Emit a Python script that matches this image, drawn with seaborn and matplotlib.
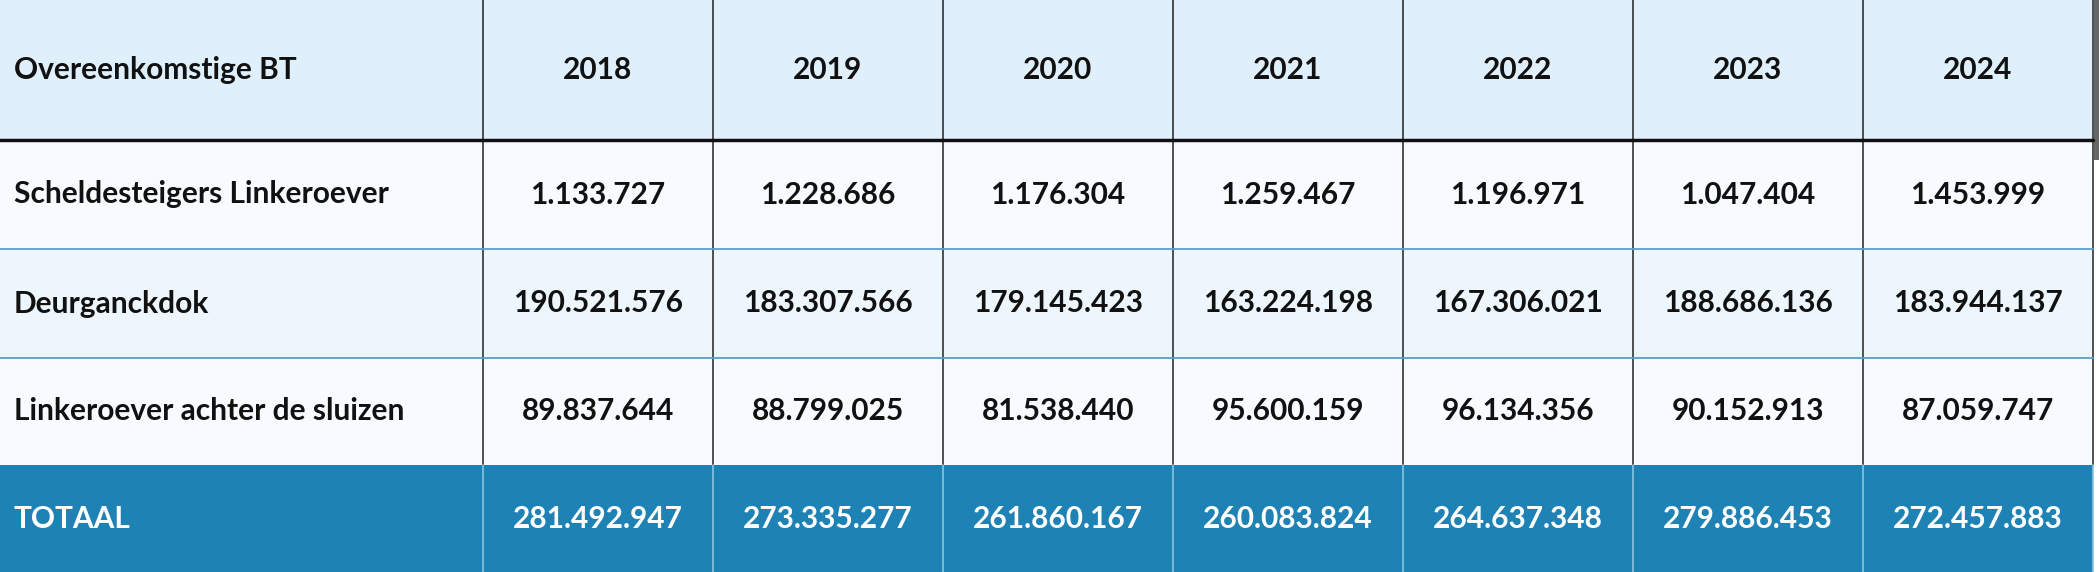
import matplotlib
matplotlib.use("Agg")
import matplotlib.pyplot as plt
import seaborn as sns
from matplotlib.patches import Rectangle

sns.set_theme(style="white")
plt.rcParams['font.family'] = ['Lato', 'DejaVu Sans']

# table data
header_label = "Overeenkomstige BT"
years = ["2018", "2019", "2020", "2021", "2022", "2023", "2024"]
row_labels = ["Scheldesteigers Linkeroever", "Deurganckdok", "Linkeroever achter de sluizen"]
scheldesteigers = ["1.133.727", "1.228.686", "1.176.304", "1.259.467", "1.196.971", "1.047.404", "1.453.999"]
deurganckdok = ["190.521.576", "183.307.566", "179.145.423", "163.224.198", "167.306.021", "188.686.136", "183.944.137"]
achter_sluizen = ["89.837.644", "88.799.025", "81.538.440", "95.600.159", "96.134.356", "90.152.913", "87.059.747"]
totaal = ["281.492.947", "273.335.277", "261.860.167", "260.083.824", "264.637.348", "279.886.453", "272.457.883"]

body = [scheldesteigers, deurganckdok, achter_sluizen]

W, H = 2099, 572
col_edges = [0, 483] + [483 + 230 * (i + 1) for i in range(7)]
row_edges = [0, 140, 249, 358, 465, 572]

header_bg = "#dff0fc"
row_bgs = ["#f7fbff", "#eef6fd", "#f7fbff"]
total_bg = "#1f82b4"

fig = plt.figure(figsize=(W / 100, H / 100), dpi=100)
ax = fig.add_axes([0, 0, 1, 1])
ax.set_xlim(0, W)
ax.set_ylim(H, 0)
ax.axis("off")

fs = 21.5

def cell(r, c, color):
    x0, x1 = col_edges[c], col_edges[c + 1]
    y0, y1 = row_edges[r], row_edges[r + 1]
    ax.add_patch(Rectangle((x0, y0), x1 - x0, y1 - y0, facecolor=color, edgecolor="none"))

def cell_text(r, c, s, color="#111111"):
    y = (row_edges[r] + row_edges[r + 1]) / 2
    if c == 0:
        ax.text(14, y, s, ha="left", va="center", fontsize=fs, fontweight="bold", color=color)
    else:
        x = (col_edges[c] + col_edges[c + 1]) / 2
        ax.text(x, y, s, ha="center", va="center", fontsize=fs, fontweight="bold", color=color)

ncols = len(years) + 1
for c in range(ncols):
    cell(0, c, header_bg)
    for r in range(3):
        cell(r + 1, c, row_bgs[r])
    cell(4, c, total_bg)

cell_text(0, 0, header_label)
for j, y in enumerate(years):
    cell_text(0, j + 1, y)
for i, lab in enumerate(row_labels):
    cell_text(i + 1, 0, lab)
    for j, v in enumerate(body[i]):
        cell_text(i + 1, j + 1, v)
cell_text(4, 0, "TOTAAL", "white")
for j, v in enumerate(totaal):
    cell_text(4, j + 1, v, "white")

# grid lines
for x in col_edges[1:]:
    ax.plot([x, x], [0, row_edges[4]], color="#333333", lw=1.2)
    ax.plot([x, x], [row_edges[4], H], color="#8cc3e0", lw=1.2)
for y in row_edges[2:4]:
    ax.plot([0, col_edges[-1]], [y, y], color="#5a9fc8", lw=1.3)
ax.plot([0, col_edges[-1]], [row_edges[1], row_edges[1]], color="#111111", lw=2.5)
ax.add_patch(Rectangle((col_edges[-1] + 1, 0), W - col_edges[-1], 160, facecolor="#666666", edgecolor="none"))

fig.savefig("out.png", dpi=100)
